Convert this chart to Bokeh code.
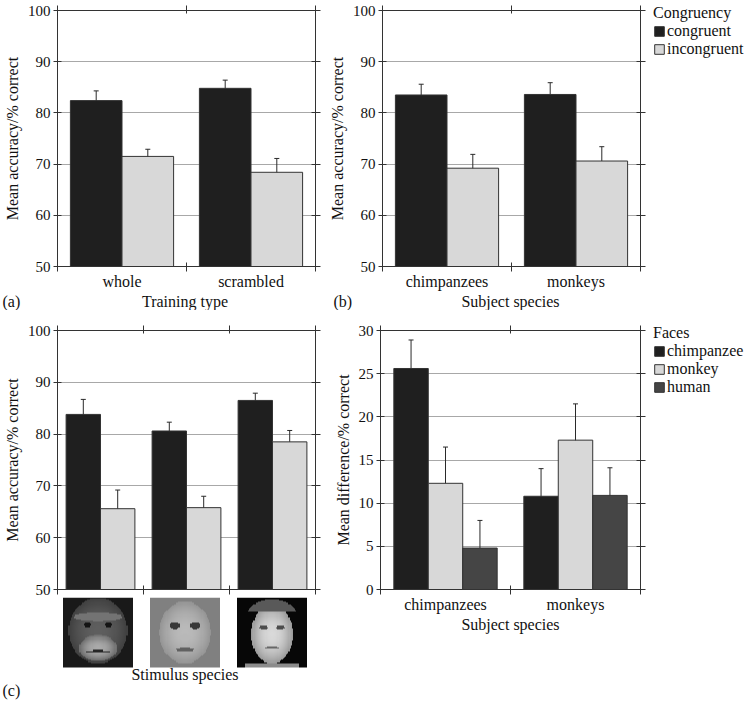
import numpy as np
from bokeh.plotting import figure
from bokeh.layouts import row, column
from bokeh.models import (Range1d, FixedTicker, LinearAxis, Whisker, TeeHead, ColumnDataSource,
                          Legend, LegendItem, Label, LinearColorMapper)
from bokeh.transform import dodge
from bokeh.palettes import Greys256
from bokeh.embed import file_html
from bokeh.resources import INLINE

FONT = "Liberation Serif"
DARK = "#1f1f1f"
LIGHT = "#d8d8d8"
MID = "#454545"
EDGE = "#333333"
GRID = "#a8a8a8"
TXT = "#111111"

# ---------------- data ----------------
# (a) training type
a_categories = ["whole", "scrambled"]
a_congruent = [82.4, 84.8]
a_congruent_err = [1.9, 1.6]
a_incongruent = [71.5, 68.4]
a_incongruent_err = [1.4, 2.7]

# (b) subject species
b_categories = ["chimpanzees", "monkeys"]
b_congruent = [83.5, 83.6]
b_congruent_err = [2.1, 2.3]
b_incongruent = [69.2, 70.6]
b_incongruent_err = [2.7, 2.8]

# (c) stimulus species
c_categories = ["chimpanzee", "monkey", "human"]
c_congruent = [83.8, 80.6, 86.5]
c_congruent_err = [2.9, 1.7, 1.4]
c_incongruent = [65.6, 65.8, 78.5]
c_incongruent_err = [3.6, 2.2, 2.2]

# (d) mean difference by subject species and faces
d_categories = ["chimpanzees", "monkeys"]
d_chimp = [25.6, 10.8]
d_chimp_err = [3.3, 3.2]
d_monkey = [12.3, 17.3]
d_monkey_err = [4.2, 4.2]
d_human = [4.8, 10.9]
d_human_err = [3.2, 3.2]

acc_ticks = [50, 60, 70, 80, 90, 100]
diff_ticks = [0, 5, 10, 15, 20, 25, 30]

# ---------------- layout constants (pixels) ----------------
W_L, W_R, W_LEG = 325, 322, 100          # left panels, right panels, legend column
BL_L, BR_L = 54, 10                       # borders of left panels
BL_R, BR_R = 55, 7                        # borders of right panels
TOP_ROW_H, STRIP_H = 310, 18
BOT_ROW_H, IMG_H = 390, 103


def hide_labels(axis):
    axis.major_label_text_font_size = "1px"
    axis.major_label_text_color = None
    axis.major_label_standoff = 0


def base_fig(width, height, ncat, yticks, labels, xtitle, ytitle, left, right, top, bottom):
    p = figure(width=width, height=height, x_range=Range1d(0, ncat),
               y_range=Range1d(yticks[0], yticks[-1]),
               output_backend="svg", toolbar_location=None,
               min_border_left=left, min_border_right=right,
               min_border_top=top, min_border_bottom=bottom)
    p.outline_line_color = EDGE
    p.background_fill_color = "white"
    p.xgrid.visible = False
    p.ygrid.ticker = FixedTicker(ticks=yticks)
    p.ygrid.grid_line_color = GRID

    centers = [i + 0.5 for i in range(ncat)]
    bounds = list(range(ncat + 1))

    xa = p.xaxis[0]
    xa.ticker = FixedTicker(ticks=centers, minor_ticks=bounds)
    xa.major_tick_in = 0
    xa.major_tick_out = 0
    xa.minor_tick_in = 4
    xa.minor_tick_out = 5
    xa.minor_tick_line_color = EDGE
    xa.axis_line_color = EDGE
    xa.major_label_text_font = FONT
    if labels:
        xa.major_label_overrides = {c: lab for c, lab in zip(centers, labels)}
        xa.major_label_text_font_size = "16px"
        xa.major_label_text_color = TXT
        xa.major_label_standoff = 1
    else:
        hide_labels(xa)
    if xtitle:
        xa.axis_label = xtitle
    xa.axis_label_text_font = FONT
    xa.axis_label_text_font_size = "16px"
    xa.axis_label_text_font_style = "normal"
    xa.axis_label_text_color = TXT
    xa.axis_label_standoff = 0

    ya = p.yaxis[0]
    ya.ticker = FixedTicker(ticks=yticks)
    ya.major_tick_in = 4
    ya.major_tick_out = 4
    ya.minor_tick_line_color = None
    ya.major_tick_line_color = EDGE
    ya.axis_line_color = EDGE
    ya.major_label_text_font = FONT
    ya.major_label_text_font_size = "15px"
    ya.major_label_text_color = TXT
    ya.major_label_standoff = 3
    ya.axis_label = ytitle
    ya.axis_label_text_font = FONT
    ya.axis_label_text_font_size = "16px"
    ya.axis_label_text_font_style = "normal"
    ya.axis_label_text_color = TXT
    ya.axis_label_standoff = 4

    top_axis = LinearAxis(ticker=FixedTicker(ticks=[], minor_ticks=bounds),
                          minor_tick_in=3, minor_tick_out=5, minor_tick_line_color=EDGE,
                          axis_line_color=EDGE)
    hide_labels(top_axis)
    p.add_layout(top_axis, "above")
    right_axis = LinearAxis(ticker=FixedTicker(ticks=yticks),
                            major_tick_in=4, major_tick_out=5, major_tick_line_color=EDGE,
                            minor_tick_line_color=None, axis_line_color=EDGE)
    hide_labels(right_axis)
    p.add_layout(right_axis, "right")
    return p


def add_bars(p, ncat, series, errs, colors, offset_step, width, bottom):
    n = len(series)
    centers = [i + 0.5 for i in range(ncat)]
    for k, (vals, err, col) in enumerate(zip(series, errs, colors)):
        off = (k - (n - 1) / 2) * offset_step
        src = ColumnDataSource(dict(xc=centers, top=vals,
                                    upper=[v + e for v, e in zip(vals, err)],
                                    lower=[v - e for v, e in zip(vals, err)]))
        p.vbar(x=dodge("xc", off), top="top", bottom=bottom, width=width,
               source=src, fill_color=col, line_color=EDGE, line_width=1)
        w = Whisker(source=src, base=dodge("xc", off), upper="upper", lower="lower",
                    line_color="#2a2a2a", line_width=1,
                    upper_head=TeeHead(size=5, line_color="#2a2a2a", line_width=1),
                    lower_head=TeeHead(size=5, line_color="#2a2a2a", line_width=1))
        p.add_layout(w)


def plain_fig(width, height, x_range=None, y_range=None, left=0, top=0):
    q = figure(width=width, height=height,
               x_range=x_range or Range1d(0, 1), y_range=y_range or Range1d(0, 1),
               output_backend="svg", toolbar_location=None,
               x_axis_location=None, y_axis_location=None,
               min_border_left=left, min_border_right=0, min_border_top=top, min_border_bottom=0)
    q.frame_align = False
    q.grid.visible = False
    q.outline_line_color = None
    return q


def text_label(q, text, x, y, align="left"):
    q.add_layout(Label(x=x, y=y, x_units="canvas", y_units="canvas", text=text,
                       text_font=FONT, text_font_size="16px", text_color=TXT,
                       text_baseline="middle", text_align=align))


def legend_fig(width, height, left, top, title, labels, colors):
    q = plain_fig(width, height, left=left, top=top)
    items = []
    for lab, col in zip(labels, colors):
        # legend key only: a single zero-height bar kept outside the visible range
        src = ColumnDataSource(dict(x=[-5.0], top=[0.0]))
        r = q.vbar(x="x", top="top", bottom=0, width=0.1, source=src,
                   fill_color=col, line_color=EDGE, line_width=1)
        items.append(LegendItem(label=lab, renderers=[r]))
    leg = Legend(items=items, title=title, location="top_left")
    leg.title_text_font = FONT
    leg.title_text_font_size = "16px"
    leg.title_text_font_style = "normal"
    leg.title_text_color = TXT
    leg.title_standoff = 0
    leg.label_text_font = FONT
    leg.label_text_font_size = "16px"
    leg.label_text_color = TXT
    leg.label_standoff = 2
    leg.label_height = 12
    leg.glyph_width = 12
    leg.glyph_height = 12
    try:
        leg.spacing = -4
    except Exception:
        leg.spacing = 0
    leg.padding = 0
    leg.margin = 0
    leg.border_line_alpha = 0
    leg.background_fill_alpha = 0
    q.add_layout(leg)
    return q


# ---------------- panel (a) ----------------
pa = base_fig(W_L, TOP_ROW_H - STRIP_H, len(a_categories), acc_ticks, a_categories, None,
              "Mean accuracy/% correct", BL_L, BR_L, 10, 18)
add_bars(pa, len(a_categories), [a_congruent, a_incongruent], [a_congruent_err, a_incongruent_err],
         [DARK, LIGHT], 0.4, 0.4, acc_ticks[0])
pa_strip = plain_fig(W_L, STRIP_H)
text_label(pa_strip, "(a)", 2, STRIP_H / 2)
text_label(pa_strip, "Training type", BL_L + (W_L - BL_L - BR_L) / 2, STRIP_H / 2, "center")

# ---------------- panel (b) ----------------
pb = base_fig(W_R, TOP_ROW_H - STRIP_H, len(b_categories), acc_ticks, b_categories, None,
              "Mean accuracy/% correct", BL_R, BR_R, 10, 18)
add_bars(pb, len(b_categories), [b_congruent, b_incongruent], [b_congruent_err, b_incongruent_err],
         [DARK, LIGHT], 0.4, 0.4, acc_ticks[0])
pb_strip = plain_fig(W_R, STRIP_H)
text_label(pb_strip, "(b)", 8, STRIP_H / 2)
text_label(pb_strip, "Subject species", BL_R + (W_R - BL_R - BR_R) / 2, STRIP_H / 2, "center")
pb_leg = legend_fig(W_LEG, TOP_ROW_H, 6, 4, "Congruency", ["congruent", "incongruent"], [DARK, LIGHT])

# ---------------- panel (c) ----------------
pc = base_fig(W_L, BOT_ROW_H - IMG_H, len(c_categories), acc_ticks, None, None,
              "Mean accuracy/% correct", BL_L, BR_L, 20, 8)
add_bars(pc, len(c_categories), [c_congruent, c_incongruent], [c_congruent_err, c_incongruent_err],
         [DARK, LIGHT], 0.4, 0.4, acc_ticks[0])

# image strip with stylised face thumbnails, aligned with the categories of (c)
cat_px = (W_L - BL_L - BR_L) / len(c_categories)
thumb_px = 70
pci = plain_fig(W_L, IMG_H,
                x_range=Range1d(-BL_L / cat_px, len(c_categories) + BR_L / cat_px),
                y_range=Range1d(1 - IMG_H / thumb_px, 1))


def face(kind, n=64):
    yy, xx = np.mgrid[-1:1:complex(0, n), -1:1:complex(0, n)]
    img = np.zeros((n, n))

    def ell(cx, cy, rx, ry):
        return ((xx - cx) / rx) ** 2 + ((yy - cy) / ry) ** 2
    if kind == "chimpanzee":
        img[:] = 0.1
        f = ell(0, 0.05, 0.85, 0.95)
        img[f < 1] = 0.25 + 0.12 * (1 - f[f < 1])
        img[ell(0, 0.45, 0.7, 0.12) < 1] = 0.45
        m = ell(0, -0.45, 0.55, 0.38)
        img[m < 1] = 0.42 + 0.25 * (1 - m[m < 1])
        for cx in (-0.3, 0.3):
            img[ell(cx, 0.22, 0.12, 0.07) < 1] = 0.08
        img[ell(0, -0.55, 0.35, 0.03) < 1] = 0.15
    elif kind == "monkey":
        img[:] = 0.5
        f = ell(0, 0.0, 0.75, 0.9)
        img[f < 1] = 0.58 + 0.15 * (1 - f[f < 1])
        for cx in (-0.3, 0.3):
            img[ell(cx, 0.2, 0.14, 0.1) < 1] = 0.22
        img[ell(0, -0.15, 0.12, 0.12) < 1] = 0.72
        img[ell(0, -0.5, 0.25, 0.05) < 1] = 0.38
    else:
        img[:] = 0.03
        f = ell(0, -0.05, 0.6, 0.85)
        img[f < 1] = 0.6 + 0.25 * (1 - f[f < 1])
        img[(ell(0, 0.55, 0.7, 0.4) < 1) & (yy > 0.6)] = 0.35
        for cx in (-0.25, 0.25):
            img[ell(cx, 0.15, 0.12, 0.05) < 1] = 0.3
        img[ell(0, -0.45, 0.2, 0.04) < 1] = 0.4
        img[(yy < -0.88) & (np.abs(xx) < 0.8)] = 0.55
    return img


cmap = LinearColorMapper(palette=Greys256, low=0, high=1)
dw = thumb_px / cat_px
for i, kind in enumerate(c_categories):
    pci.image(image=[face(kind)], x=i + 0.5 - dw / 2, y=0, dw=dw, dh=1, color_mapper=cmap)
text_label(pci, "Stimulus species", BL_L + (W_L - BL_L - BR_L) / 2, 77, "center")
text_label(pci, "(c)", 2, 93)

# ---------------- panel (d) ----------------
pd_ = base_fig(W_R, BOT_ROW_H, len(d_categories), diff_ticks, d_categories, "Subject species",
               "Mean difference/% correct", BL_R, BR_R, 20, 111)
add_bars(pd_, len(d_categories), [d_chimp, d_monkey, d_human],
         [d_chimp_err, d_monkey_err, d_human_err],
         [DARK, LIGHT, MID], 0.265, 0.265, diff_ticks[0])
pd_leg = legend_fig(W_LEG, BOT_ROW_H, 6, 14, "Faces", ["chimpanzee", "monkey", "human"], [DARK, LIGHT, MID])

layout = column(row(column(pa, pa_strip), column(pb, pb_strip), pb_leg),
                row(column(pc, pci), pd_, pd_leg))

with open("out.html", "w") as f:
    f.write(file_html(layout, INLINE))
